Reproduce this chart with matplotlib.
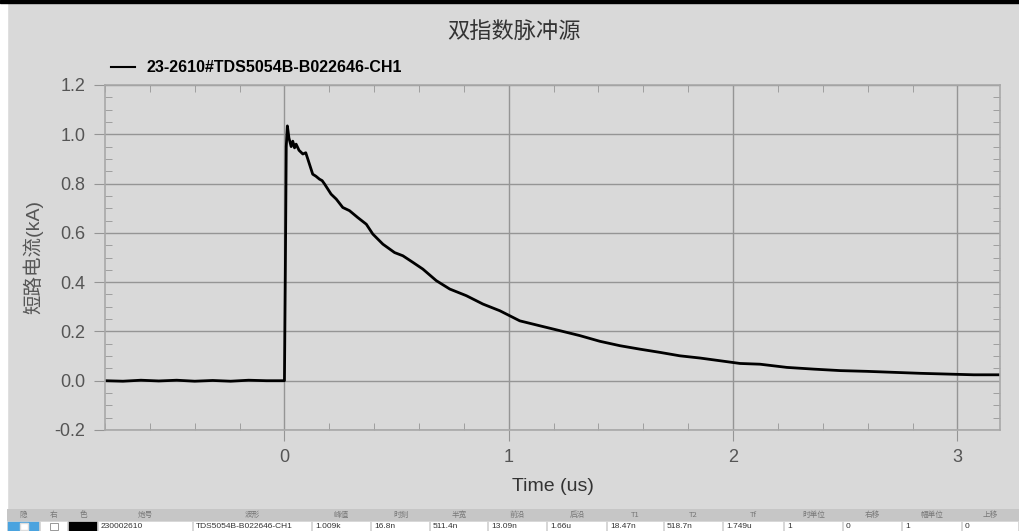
import matplotlib
matplotlib.use('Agg')
import matplotlib.pyplot as plt
from matplotlib.patches import Rectangle
from matplotlib.ticker import MultipleLocator

plt.rcParams['font.family'] = ['Liberation Sans', 'Noto Sans CJK SC', 'DejaVu Sans']

# waveform (t in us, current in kA)
t = [-0.80, -0.72, -0.64, -0.56, -0.48, -0.40, -0.32, -0.24, -0.16, -0.08, -0.01,
     0.000, 0.004, 0.008, 0.013, 0.020, 0.030, 0.037, 0.045, 0.052, 0.065, 0.082,
     0.095, 0.104, 0.126, 0.140, 0.156, 0.168, 0.179, 0.208, 0.231, 0.260, 0.290,
     0.327, 0.365, 0.394, 0.439, 0.491, 0.528, 0.573, 0.617, 0.677, 0.737, 0.811,
     0.885, 0.960, 1.049, 1.138, 1.228, 1.317, 1.406, 1.496, 1.585, 1.674, 1.763,
     1.853, 1.942, 2.031, 2.120, 2.240, 2.360, 2.478, 2.597, 2.716, 2.835, 2.954,
     3.073, 3.190]
current = [0.000, -0.002, 0.002, -0.001, 0.002, -0.002, 0.001, -0.002, 0.002, 0.000, 0.000,
           0.000, 0.45, 0.95, 1.034, 0.985, 0.950, 0.972, 0.945, 0.960, 0.935, 0.920,
           0.925, 0.900, 0.838, 0.830, 0.818, 0.812, 0.798, 0.757, 0.737, 0.703, 0.690,
           0.662, 0.635, 0.595, 0.554, 0.520, 0.507, 0.480, 0.453, 0.406, 0.372, 0.345,
           0.311, 0.284, 0.243, 0.223, 0.203, 0.183, 0.160, 0.142, 0.128, 0.115, 0.101,
           0.092, 0.081, 0.070, 0.067, 0.054, 0.047, 0.041, 0.038, 0.034, 0.030, 0.027,
           0.024, 0.024]

title = '双指数脉冲源'
series_name = '23-2610#TDS5054B-B022646-CH1'
x_label = 'Time (us)'
y_label = '短路电流(kA)'

table_headers = ['隐', '右', '色', '炮号', '波形', '峰值', '时刻', '半宽', '前沿', '后沿',
                 'T1', 'T2', 'Tf', '时单位', '右移', '幅单位', '上移']
table_values = ['', '☐', '', '230002610', 'TDS5054B-B022646-CH1', '1.009k', '16.8n',
                '511.4n', '13.09n', '1.66u', '18.47n', '518.7n', '1.749u', '1', '0', '1', '0']
# column left edges in pixels
col_edges = [7, 40, 68, 98, 193, 312, 371, 430, 488, 547, 607, 664, 723, 784, 843, 902, 962, 1019]

W, H = 1019, 531
bg = '#d9d9d9'
fig = plt.figure(figsize=(W / 100, H / 100), dpi=100, facecolor=bg)

# white strip at left, black line on top
fig.add_artist(Rectangle((0, 0), 7 / W, 1, transform=fig.transFigure, color='white', zorder=0))
fig.add_artist(Rectangle((0, 1 - 3 / H), 1, 3 / H, transform=fig.transFigure, color='black', zorder=5))

ax = fig.add_axes([105 / W, 1 - 430 / H, (1000 - 105) / W, (430 - 85) / H])
ax.set_facecolor(bg)
ax.plot(t, current, color='black', lw=2.0, label=series_name)

ax.set_xlim(-0.80, 3.19)
ax.set_ylim(-0.2, 1.2)
ax.xaxis.set_major_locator(MultipleLocator(1))
ax.xaxis.set_minor_locator(MultipleLocator(0.2))
ax.yaxis.set_major_locator(MultipleLocator(0.2))
ax.yaxis.set_minor_locator(MultipleLocator(0.05))
ax.yaxis.set_major_formatter(plt.FuncFormatter(lambda v, p: f'{v:.1f}'))
ax.grid(True, which='major', color='#959595', lw=1)
for s in ax.spines.values():
    s.set_color('#a8a8a8')
    s.set_linewidth(1.2)
ax.tick_params(which='major', direction='out', length=8, color='#959595',
               labelsize=13, labelcolor='#555555', pad=6)
ax.tick_params(which='minor', direction='in', length=5, color='#959595',
               top=True, right=True)
ax.set_xlabel(x_label, fontsize=14, color='#333333', labelpad=8)
ax.set_ylabel(y_label, fontsize=14, color='#555555', labelpad=8)

leg = ax.legend(loc='lower left', bbox_to_anchor=(-0.004, 1.0), frameon=False,
                handlelength=1.5, handletextpad=0.7, borderaxespad=0.2,
                prop={'weight': 'bold', 'size': 11.5})
leg.get_lines()[0].set_linewidth(1.5)

fig.text(514 / W, 1 - 31 / H, title, ha='center', va='center', fontsize=16,
         color='#333333', family=['Noto Sans CJK SC', 'DejaVu Sans'])

# bottom table
hy0, hy1, dy1 = 509, 521, 531
for i, (h, v) in enumerate(zip(table_headers, table_values)):
    x0, x1 = col_edges[i], col_edges[i + 1]
    fig.add_artist(Rectangle((x0 / W, 1 - hy1 / H), (x1 - x0) / W, (hy1 - hy0) / H,
                             transform=fig.transFigure, facecolor='#c6c6c6', edgecolor='none'))
    fc = '#4aa3df' if i == 0 else ('black' if i == 2 else 'white')
    fig.add_artist(Rectangle((x0 / W, 1 - dy1 / H), (x1 - x0 - 1) / W, (dy1 - hy1) / H,
                             transform=fig.transFigure, facecolor=fc, edgecolor='#d0d0d0', lw=0.5))
    fig.text((x0 + x1) / 2 / W, 1 - (hy0 + hy1) / 2 / H, h, ha='center', va='center',
             fontsize=5.5, color='#777777', family=['Noto Sans CJK SC', 'DejaVu Sans'])
    if i == 0:
        fig.add_artist(Rectangle(((x0 + x1) / 2 / W - 4 / W, 1 - 530 / H), 8 / W, 7 / H,
                                 transform=fig.transFigure, facecolor='white', edgecolor='#dddddd'))
    elif i == 1:
        fig.add_artist(Rectangle(((x0 + x1) / 2 / W - 4 / W, 1 - 530 / H), 8 / W, 7 / H,
                                 transform=fig.transFigure, facecolor='white', edgecolor='#888888', lw=0.6))
    elif v:
        fig.text((x0 + 3) / W, 1 - 527 / H, v, ha='left', va='center', fontsize=6,
                 color='#333333')

fig.savefig('out.png', dpi=100, facecolor=bg)
